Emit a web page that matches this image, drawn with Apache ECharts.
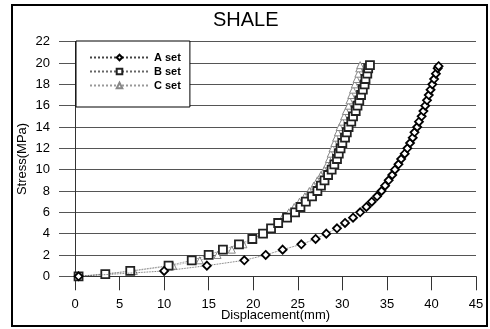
<!DOCTYPE html>
<html>
<head>
<meta charset="utf-8">
<script src="https://cdn.jsdelivr.net/npm/echarts@6/dist/echarts.min.js"></script>
<style>
html,body{margin:0;padding:0;background:#fff;}
#chart{width:490px;height:329px;}
</style>
</head>
<body>
<div id="chart"></div>
<script>
// ---- data ----
const xTicks = [0, 5, 10, 15, 20, 25, 30, 35, 40, 45];
const yTicks = [0, 2, 4, 6, 8, 10, 12, 14, 16, 18, 20, 22];

const aStress = [0, 0.5, 1.0, 1.5, 2.0, 2.5, 3.0, 3.5, 4.0, 4.5, 5.0, 5.5, 6.0, 6.5, 7.0, 7.5, 8.0, 8.5, 9.0, 9.5, 10.0, 10.5, 11.0, 11.5, 12.0, 12.5, 13.0, 13.5, 14.0, 14.5, 15.0, 15.5, 16.0, 16.5, 17.0, 17.5, 18.0, 18.5, 19.0, 19.5, 19.7];
const aDisp   = [0.4, 10.0, 14.8, 19.0, 21.4, 23.3, 25.4, 27.0, 28.2, 29.4, 30.3, 31.2, 32.0, 32.7, 33.3, 33.9, 34.4, 34.8, 35.2, 35.6, 35.9, 36.3, 36.6, 37.0, 37.3, 37.6, 37.9, 38.1, 38.4, 38.6, 38.9, 39.1, 39.3, 39.5, 39.7, 39.9, 40.1, 40.3, 40.5, 40.7, 40.8];

const bStress = [0, 0.2, 0.5, 1.0, 1.5, 2.0, 2.5, 3.0, 3.5, 4.0, 4.5, 5.0, 5.5, 6.0, 6.5, 7.0, 7.5, 8.0, 8.5, 9.0, 9.5, 10.0, 10.5, 11.0, 11.5, 12.0, 12.5, 13.0, 13.5, 14.0, 14.5, 15.0, 15.5, 16.0, 16.5, 17.0, 17.5, 18.0, 18.5, 19.0, 19.5, 19.8];
const bDisp   = [0.4, 3.4, 6.2, 10.5, 13.1, 15.0, 16.6, 18.4, 19.9, 21.1, 22.0, 22.8, 23.8, 24.7, 25.3, 25.9, 26.6, 27.2, 27.6, 28.0, 28.4, 28.8, 29.1, 29.4, 29.6, 29.8, 30.0, 30.3, 30.5, 30.7, 31.0, 31.2, 31.5, 31.7, 31.9, 32.1, 32.3, 32.5, 32.6, 32.8, 32.9, 33.1];

const cStress = [0, 0.5, 1.0, 1.5, 2.0, 2.5, 3.0, 3.5, 4.0, 4.5, 5.0, 5.5, 6.0, 6.5, 7.0, 7.5, 8.0, 8.5, 9.0, 9.5, 10.0, 10.5, 11.0, 11.5, 12.0, 12.5, 13.0, 13.5, 14.0, 14.5, 15.0, 15.5, 16.0, 16.5, 17.0, 17.5, 18.0, 18.5, 19.0, 19.5, 19.8];
const cDisp   = [0.4, 6.6, 11.0, 14.0, 16.0, 17.6, 18.9, 20.0, 21.0, 21.8, 22.6, 23.3, 24.0, 24.6, 25.2, 25.8, 26.3, 26.8, 27.2, 27.6, 28.0, 28.3, 28.5, 28.7, 28.9, 29.1, 29.3, 29.5, 29.7, 30.0, 30.2, 30.4, 30.7, 30.8, 31.0, 31.2, 31.4, 31.6, 31.8, 31.9, 32.0];

const seriesNames = ['A set', 'B set', 'C set'];
// ----------------------------------------

function pairs(xs, ys) { return xs.map((x, i) => [x, ys[i]]); }

const FONT = 'Liberation Sans, Arial, sans-serif';
const chart = echarts.init(document.getElementById('chart'), null, {renderer: 'canvas'});

chart.setOption({
  backgroundColor: '#fff',
  animation: false,
  textStyle: {fontFamily: FONT},
  title: {
    text: 'SHALE',
    left: 213, top: 10, padding: 0,
    textStyle: {fontFamily: FONT, fontSize: 20, fontWeight: 'normal', color: '#000'}
  },
  graphic: [{
    type: 'rect',
    shape: {x: 12, y: 5, width: 475, height: 321},
    style: {fill: 'none', stroke: '#000', lineWidth: 2},
    z: 100
  }],
  legend: {
    orient: 'vertical',
    left: 76, top: 41,
    padding: [10, 9, 15, 13],
    itemWidth: 59, itemHeight: 7, itemGap: 1,
    borderColor: '#000', borderWidth: 1,
    backgroundColor: '#fff',
    textStyle: {fontFamily: FONT, fontSize: 11, color: '#000', fontWeight: 'bold', lineHeight: 13},
    data: seriesNames,
    z: 10
  },
  grid: {left: 75, right: 14, top: 41.7, bottom: 52.7, outerBoundsMode: 'none', containLabel: false},
  xAxis: {
    type: 'value',
    min: xTicks[0], max: xTicks[xTicks.length - 1], interval: 5,
    name: 'Displacement(mm)', nameLocation: 'middle', nameGap: 33, nameMoveOverlap: false,
    nameTextStyle: {fontFamily: FONT, fontSize: 13, color: '#000'},
    axisLine: {show: true, lineStyle: {color: '#333', width: 1}},
    axisTick: {show: true, inside: false, length: 14, lineStyle: {color: '#333'}},
    axisLabel: {margin: 22, fontFamily: FONT, fontSize: 13, color: '#000'},
    splitLine: {show: false}
  },
  yAxis: {
    type: 'value',
    min: yTicks[0], max: yTicks[yTicks.length - 1], interval: 2,
    name: 'Stress(MPa)', nameLocation: 'middle', nameGap: 46, nameMoveOverlap: false,
    nameTextStyle: {fontFamily: FONT, fontSize: 13, color: '#000'},
    axisLine: {show: true, lineStyle: {color: '#333', width: 1}},
    axisTick: {show: true, inside: false, length: 16, lineStyle: {color: '#555'}},
    axisLabel: {margin: 25, fontFamily: FONT, fontSize: 13, color: '#000'},
    splitLine: {show: true, lineStyle: {color: '#555', width: 1}}
  },
  series: [
    {
      name: seriesNames[0], type: 'line',
      data: pairs(aDisp, aStress),
      symbol: 'diamond', symbolSize: 8, showAllSymbol: true,
      itemStyle: {color: '#fff', borderColor: '#000', borderWidth: 1.8},
      lineStyle: {color: '#444', width: 0.8, type: 'dotted'},
      z: 3
    },
    {
      name: seriesNames[1], type: 'line',
      data: pairs(bDisp, bStress),
      symbol: 'rect', symbolSize: 8, showAllSymbol: true,
      itemStyle: {color: '#fff', borderColor: '#222', borderWidth: 1.8},
      lineStyle: {color: '#666', width: 0.8, type: 'dotted'},
      z: 2
    },
    {
      name: seriesNames[2], type: 'line',
      data: pairs(cDisp, cStress),
      symbol: 'triangle', symbolSize: 7, showAllSymbol: true,
      itemStyle: {color: '#fff', borderColor: '#888', borderWidth: 1},
      lineStyle: {color: '#999', width: 0.8, type: 'dotted'},
      z: 1
    }
  ]
});
</script>
</body>
</html>
